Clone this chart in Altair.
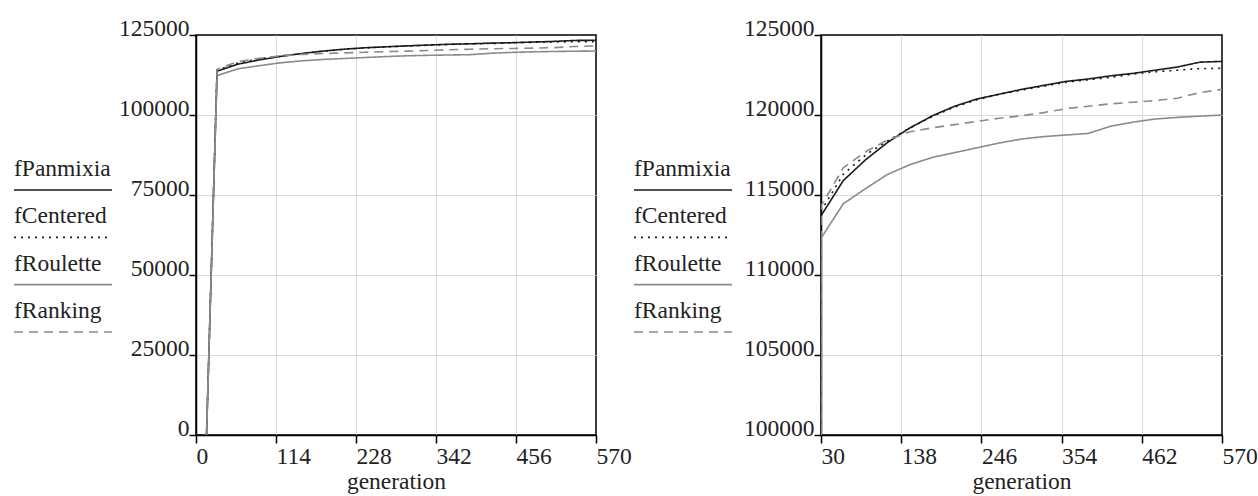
import altair as alt
import pandas as pd

# ---- data ----
generations = [15, 30, 60, 90, 120, 150, 180, 210, 240, 270, 300, 330, 360, 390, 420, 450, 480, 510, 540, 570]
fPanmixia = [0, 113700, 115900, 117200, 118300, 119200, 119950, 120550, 121000, 121300, 121600, 121850, 122100, 122250, 122450, 122600, 122800, 123000, 123300, 123350]
fCentered = [0, 114000, 116300, 117500, 118400, 119200, 119900, 120500, 120950, 121300, 121550, 121800, 122050, 122200, 122350, 122550, 122700, 122800, 122900, 122920]
fRoulette = [0, 112300, 114450, 115400, 116300, 116900, 117350, 117650, 117950, 118250, 118500, 118650, 118750, 118850, 119300, 119550, 119750, 119850, 119930, 120000]
fRanking = [0, 114300, 116700, 117700, 118450, 118950, 119200, 119400, 119600, 119800, 119950, 120150, 120400, 120550, 120700, 120800, 120900, 121050, 121400, 121600]

series_names = ["fPanmixia", "fCentered", "fRoulette", "fRanking"]
series_values = [fPanmixia, fCentered, fRoulette, fRanking]

left_x_ticks = [0, 114, 228, 342, 456, 570]
left_y_ticks = [0, 25000, 50000, 75000, 100000, 125000]
right_x_ticks = [30, 138, 246, 354, 462, 570]
right_y_ticks = [100000, 105000, 110000, 115000, 120000, 125000]

# ---- styles ----
colors = ["#1a1a1a", "#1a1a1a", "#8a8a8a", "#8a8a8a"]
dashes = [[1, 0], [2, 5], [1, 0], [9, 6]]
widths = [1.6, 1.6, 3.2, 3.0]
FONT = "Liberation Serif"
FS = 23.5

rows = []
for name, vals in zip(series_names, series_values):
    for g, v in zip(generations, vals):
        rows.append({"series": name, "generation": g, "value": v})
df = pd.DataFrame(rows)

leg_df = pd.DataFrame({"series": series_names})

color_scale = alt.Scale(domain=series_names, range=colors)
dash_scale = alt.Scale(domain=series_names, range=dashes)
width_scale = alt.Scale(domain=series_names, range=widths)


def edge_hidden(lo, hi):
    return {"condition": {"test": f"datum.value == {lo} || datum.value == {hi}", "value": 0}, "value": 1}


def plot(xdom, xticks, ydom, yticks, w):
    xax = alt.Axis(values=xticks, title="generation", labelAlign="left", labelPadding=1,
                   tickSize=8, tickColor="black", tickWidth=1.5,
                   domain=True, domainColor="black", domainWidth=1.5,
                   grid=True, gridColor="#d9d9d9", gridOpacity=edge_hidden(xdom[0], xdom[1]),
                   labelFont=FONT, labelFontSize=FS, labelColor="#222", titleFont=FONT,
                   titleFontSize=FS, titleFontWeight="normal", titleColor="#222", titlePadding=2,
                   labelFlush=False)
    yax = alt.Axis(values=yticks, title=None, format="d", labelBaseline="alphabetic",
                   labelPadding=0, tickSize=7, tickColor="black", tickWidth=1.5,
                   domain=True, domainColor="black", domainWidth=1.5,
                   grid=True, gridColor="#d9d9d9", gridOpacity=edge_hidden(ydom[0], ydom[1]),
                   labelFont=FONT, labelFontSize=FS, labelColor="#222")
    return alt.Chart(df).mark_line(clip=True).encode(
        x=alt.X("generation:Q", scale=alt.Scale(domain=xdom, nice=False, clamp=True), axis=xax),
        y=alt.Y("value:Q", scale=alt.Scale(domain=ydom, nice=False, clamp=True, zero=False), axis=yax),
        color=alt.Color("series:N", scale=color_scale, legend=None),
        strokeDash=alt.StrokeDash("series:N", scale=dash_scale, legend=None),
        strokeWidth=alt.StrokeWidth("series:N", scale=width_scale, legend=None),
        detail="series:N",
    ).properties(width=w, height=400)


def legend():
    yscale = alt.Scale(type="point", padding=0, domain=series_names, range=[155, 297])
    rule = alt.Chart(leg_df).mark_rule().encode(
        x=alt.value(0), x2=alt.value(98),
        y=alt.Y("series:N", scale=yscale, axis=None),
        color=alt.Color("series:N", scale=color_scale, legend=None),
        strokeDash=alt.StrokeDash("series:N", scale=dash_scale, legend=None),
        strokeWidth=alt.StrokeWidth("series:N", scale=width_scale, legend=None),
    )
    txt = alt.Chart(leg_df).mark_text(align="left", baseline="alphabetic", dy=-14,
                                      font=FONT, fontSize=FS, color="#222").encode(
        x=alt.value(0),
        y=alt.Y("series:N", scale=yscale, axis=None),
        text="series:N",
    )
    return alt.layer(rule, txt).properties(width=98, height=400,
                                           view=alt.ViewBackground(stroke="transparent"))


left = alt.hconcat(legend(), plot([0, 570], left_x_ticks, [0, 125000], left_y_ticks, 400), spacing=3)
right = alt.hconcat(legend(), plot([30, 570], right_x_ticks, [100000, 125000], right_y_ticks, 401), spacing=8)

chart = alt.hconcat(left, right, spacing=0).properties(
    padding={"left": 12, "top": 15, "right": 0, "bottom": 0},
    background="white",
).configure_view(stroke="black", strokeWidth=1.5)

chart.save("out.html", embed_options={"renderer": "svg", "actions": False})
